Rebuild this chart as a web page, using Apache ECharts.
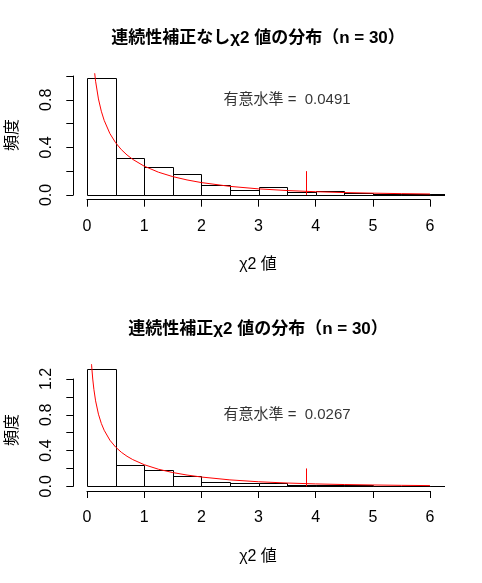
<!DOCTYPE html>
<html><head><meta charset="utf-8">
<script src="https://cdn.jsdelivr.net/npm/echarts/dist/echarts.min.js"></script>
<style>html,body{margin:0;padding:0;background:#fff}#c{width:482px;height:583px}</style>
</head><body><div id="c"></div>
<script>
// ---- data ----
const binStarts = [0, 0.5, 1, 1.5, 2, 2.5, 3, 3.5, 4, 4.5, 5, 5.5, 6];
const binWidth = 0.5;
const densTop = [0.98, 0.308, 0.232, 0.174, 0.081, 0.039, 0.065, 0.023, 0.031, 0.014, 0.011, 0.011, 0.006];
const densBottom = [1.308, 0.235, 0.179, 0.112, 0.045, 0.041, 0.034, 0.017, 0.017, 0.011, 0.004, 0.004, 0];
const curveX = [0.06, 0.08, 0.1, 0.12, 0.15, 0.2, 0.25, 0.3, 0.4, 0.5, 0.6, 0.7, 0.8, 1.0, 1.25, 1.5, 1.75, 2.0, 2.5, 3.0, 3.5, 4.0, 4.5, 5.0, 5.5, 6.0];
const curveY = [1.58, 1.355, 1.20, 1.085, 0.956, 0.807, 0.704, 0.627, 0.516, 0.439, 0.381, 0.336, 0.299, 0.242, 0.191, 0.154, 0.126, 0.104, 0.072, 0.051, 0.037, 0.027, 0.020, 0.015, 0.011, 0.008];
const critX = 3.84;
const critTop = 0.2;
const xTicks = [0, 1, 2, 3, 4, 5, 6];
const yTicksTop = [0, 0.2, 0.4, 0.6, 0.8, 1.0];
const yLabelsTop = [0, 0.4, 0.8];
const yTicksBottom = [0, 0.2, 0.4, 0.6, 0.8, 1.0, 1.2];
const yLabelsBottom = [0, 0.4, 0.8, 1.2];
const titles = ['連続性補正なしχ2 値の分布（n = 30）', '連続性補正χ2 値の分布（n = 30）'];
const xName = 'χ2 値';
const yName = '頻度';
const sigTexts = ['有意水準 =  0.0491', '有意水準 =  0.0267'];
const sigPos = [3.5, 0.8];

// ---- chart ----
const FONT = '"Liberation Sans", "Noto Sans CJK JP", sans-serif';
const chart = echarts.init(document.getElementById('c'), null, {renderer: 'canvas'});

function histRender(params, api) {
  const x0 = api.value(0), x1 = api.value(1), h = api.value(2);
  const p0 = api.coord([x0, 0]);
  const p1 = api.coord([x1, h]);
  const L = Math.round(p0[0]) + 0.5, R = Math.round(p1[0]) + 0.5;
  const B = Math.round(p0[1]) + 0.5, T = Math.round(p1[1]) + 0.5;
  return {type: 'rect', shape: {x: L, y: T, width: R - L, height: B - T},
          style: {fill: 'none', stroke: '#000', lineWidth: 1}};
}
function histData(d) { return binStarts.map((s, i) => [s, s + binWidth, d[i]]); }
const curveData = curveX.map((x, i) => [x, curveY[i]]);

const dataGrids = [
  {left: 73.3, width: 370.4, top: 73.7, height: 125.9},
  {left: 73.3, width: 370.4, top: 364.7, height: 126.3}
];
const yRanges = [[-0.0392, 1.0192], [-0.0523, 1.3603]];

const grids = [
  dataGrids[0], dataGrids[1],
  {left: 87, width: 343, top: 100, height: 99.7},   // 2 top x axis
  {left: 73.3, width: 100, top: 76, height: 119},   // 3 top y axis
  {left: 87, width: 343, top: 400, height: 91},     // 4 bottom x axis
  {left: 73.3, width: 100, top: 379, height: 107.3} // 5 bottom y axis
];

const hid = (g, extra) => Object.assign({gridIndex: g, type: 'value', show: false}, extra || {});
function xShown(g) {
  return {gridIndex: g, type: 'value', min: 0, max: 6, interval: 1, position: 'bottom',
    axisLine: {show: true, lineStyle: {color: '#000', width: 1}},
    axisTick: {show: true, length: 7, lineStyle: {color: '#000'}, customValues: xTicks},
    axisLabel: {show: true, margin: 19, fontSize: 16, color: '#000', fontFamily: FONT, customValues: xTicks},
    splitLine: {show: false}};
}
function yShown(g, max, ticks, labels) {
  return {gridIndex: g, type: 'value', min: 0, max: max, interval: 0.2, position: 'left',
    axisLine: {show: true, lineStyle: {color: '#000', width: 1}},
    axisTick: {show: true, length: 7, lineStyle: {color: '#000'}, customValues: ticks},
    axisLabel: {show: true, margin: 19, fontSize: 16, color: '#000', fontFamily: FONT, rotate: 90,
      customValues: labels, formatter: v => Number(v).toFixed(1)},
    splitLine: {show: false}};
}

const xAxes = [
  hid(0, {min: -0.24, max: 6.24}), hid(1, {min: -0.24, max: 6.24}),
  xShown(2), hid(3), xShown(4), hid(5)
];
const yAxes = [
  hid(0, {min: yRanges[0][0], max: yRanges[0][1]}), hid(1, {min: yRanges[1][0], max: yRanges[1][1]}),
  hid(2), yShown(3, 1.0, yTicksTop, yLabelsTop), hid(4), yShown(5, 1.2, yTicksBottom, yLabelsBottom)
];

const series = [];
[densTop, densBottom].forEach((d, k) => {
  series.push({type: 'custom', xAxisIndex: k, yAxisIndex: k, clip: true, renderItem: histRender,
    data: histData(d), silent: true});
  series.push({type: 'line', xAxisIndex: k, yAxisIndex: k, data: curveData, symbol: 'none', clip: true,
    lineStyle: {color: '#ff0000', width: 1}, silent: true});
  series.push({type: 'line', xAxisIndex: k, yAxisIndex: k, data: [[critX, 0], [critX, critTop]], symbol: 'none',
    lineStyle: {color: '#ff0000', width: 1}, silent: true});
  series.push({type: 'scatter', xAxisIndex: k, yAxisIndex: k, data: [sigPos], symbolSize: 1,
    itemStyle: {color: 'rgba(0,0,0,0)'}, silent: true,
    label: {show: true, position: 'inside', formatter: sigTexts[k], color: '#000', fontSize: 15, fontFamily: FONT}});
});

const graphics = [];
[[38, 265, 135], [329, 557, 430]].forEach((pos, k) => {
  graphics.push({type: 'text', x: 258, y: pos[0], style: {text: titles[k], font: 'bold 17px ' + FONT,
    fill: '#000', textAlign: 'center', textVerticalAlign: 'middle'}});
  graphics.push({type: 'text', x: 258, y: pos[1], style: {text: xName, font: '16px ' + FONT,
    fill: '#000', textAlign: 'center', textVerticalAlign: 'middle'}});
  graphics.push({type: 'text', x: 13, y: pos[2], rotation: Math.PI / 2, style: {text: yName, font: '16px ' + FONT,
    fill: '#000', textAlign: 'center', textVerticalAlign: 'middle'}});
});

chart.setOption({
  animation: false,
  backgroundColor: '#fff',
  grid: grids,
  xAxis: xAxes,
  yAxis: yAxes,
  series: series,
  graphic: graphics
});
</script>
</body></html>
